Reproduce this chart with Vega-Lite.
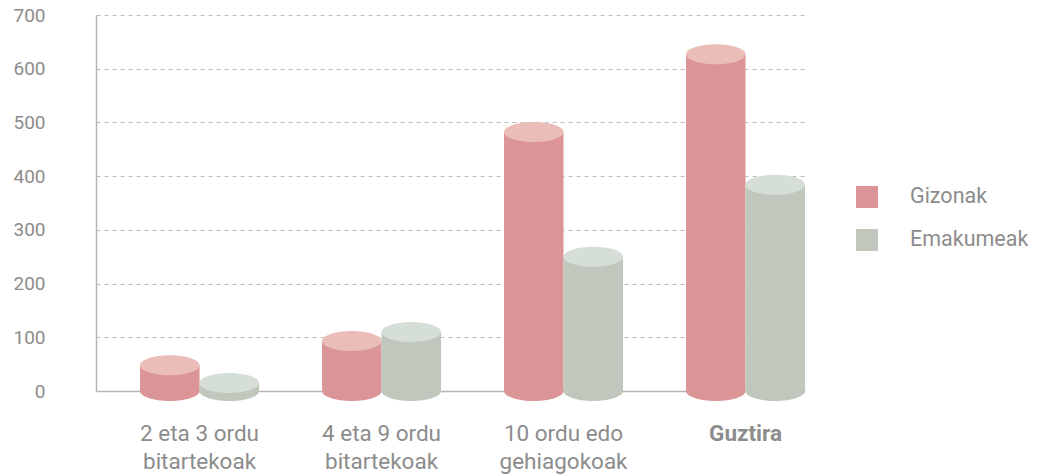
{
  "$schema": "https://vega.github.io/schema/vega-lite/v6.json",
  "autosize": {"type": "none"},
  "width": 709,
  "height": 376,
  "padding": {"left": 96, "top": 15, "right": 237, "bottom": 85},
  "background": "#ffffff",
  "config": {
    "view": {"stroke": null},
    "font": "Roboto",
    "axis": {"labelFont": "Roboto", "labelColor": "#8c8c8c"},
    "legend": {"labelFont": "Roboto"}
  },
  "data": {
    "values": [
      {"cat": "2 eta 3 ordu|bitartekoak", "series": "Gizonak", "value": 48},
      {"cat": "2 eta 3 ordu|bitartekoak", "series": "Emakumeak", "value": 15},
      {"cat": "4 eta 9 ordu|bitartekoak", "series": "Gizonak", "value": 93},
      {"cat": "4 eta 9 ordu|bitartekoak", "series": "Emakumeak", "value": 110},
      {"cat": "10 ordu edo|gehiagokoak", "series": "Gizonak", "value": 482},
      {"cat": "10 ordu edo|gehiagokoak", "series": "Emakumeak", "value": 250},
      {"cat": "Guztira", "series": "Gizonak", "value": 627},
      {"cat": "Guztira", "series": "Emakumeak", "value": 384}
    ]
  },
  "encoding": {
    "x": {
      "field": "cat",
      "type": "nominal",
      "sort": null,
      "scale": {"paddingInner": 0.346, "paddingOuter": 0.121, "align": 1},
      "axis": {
        "title": null,
        "labelAngle": 0,
        "tickSize": 0,
        "labelPadding": 31,
        "labelFontSize": 22.5,
        "labelLineHeight": 28,
        "labelExpr": "split(datum.value, '|')",
        "labelFontWeight": {"condition": {"test": "datum.value == 'Guztira'", "value": "bold"}, "value": "normal"},
        "domainColor": "#b5b5b5",
        "domainWidth": 1.5,
        "grid": false,
        "zindex": 0
      }
    },
    "xOffset": {
      "field": "series",
      "type": "nominal",
      "sort": ["Gizonak", "Emakumeak"],
      "scale": {"paddingInner": 0, "paddingOuter": 0}
    }
  },
  "layer": [
    {
      "mark": {"type": "bar", "cornerRadius": 0},
      "encoding": {
        "y": {
          "field": "value",
          "type": "quantitative",
          "scale": {"domain": [0, 700], "nice": false},
          "axis": {
            "title": null,
            "values": [0, 100, 200, 300, 400, 500, 600, 700],
            "tickSize": 0,
            "labelPadding": 51,
            "labelFontSize": 19,
            "domainColor": "#b5b5b5",
            "domainWidth": 1.5,
            "grid": true,
            "gridColor": "#bdbdbd",
            "gridDash": [4, 4],
            "gridWidth": 1,
            "zindex": 0
          }
        },
        "color": {
          "field": "series",
          "type": "nominal",
          "sort": ["Gizonak", "Emakumeak"],
          "scale": {"domain": ["Gizonak", "Emakumeak"], "range": ["#db9597", "#c0c8bd"]},
          "legend": {
            "title": null,
            "orient": "none",
            "legendX": 760,
            "legendY": 171,
            "symbolType": "square",
            "symbolSize": 484,
            "symbolStrokeWidth": 0,
            "symbolOpacity": 1,
            "labelFontSize": 21.5,
            "labelColor": "#8c8c8c",
            "labelOffset": 32,
            "rowPadding": 21
          }
        }
      }
    },
    {
      "mark": {
        "type": "point",
        "filled": true,
        "opacity": 1,
        "strokeWidth": 0,
        "shape": "M-1,0C-1,-0.186,-0.552,-0.336,0,-0.336C0.552,-0.336,1,-0.186,1,0C1,0.186,0.552,0.336,0,0.336C-0.552,0.336,-1,0.186,-1,0Z",
        "size": 3540
      },
      "encoding": {
        "y": {"datum": 0, "type": "quantitative"},
        "color": {"field": "series", "type": "nominal", "sort": ["Gizonak", "Emakumeak"]}
      }
    },
    {
      "mark": {
        "type": "point",
        "filled": true,
        "opacity": 1,
        "strokeWidth": 0,
        "shape": "M-1,0C-1,-0.186,-0.552,-0.336,0,-0.336C0.552,-0.336,1,-0.186,1,0C1,0.186,0.552,0.336,0,0.336C-0.552,0.336,-1,0.186,-1,0Z",
        "size": 3540
      },
      "encoding": {
        "y": {"field": "value", "type": "quantitative"},
        "fill": {
          "field": "series",
          "type": "nominal",
          "scale": {"domain": ["Gizonak", "Emakumeak"], "range": ["#ebbdb8", "#d6dfd7"]},
          "legend": null
        }
      }
    }
  ]
}
